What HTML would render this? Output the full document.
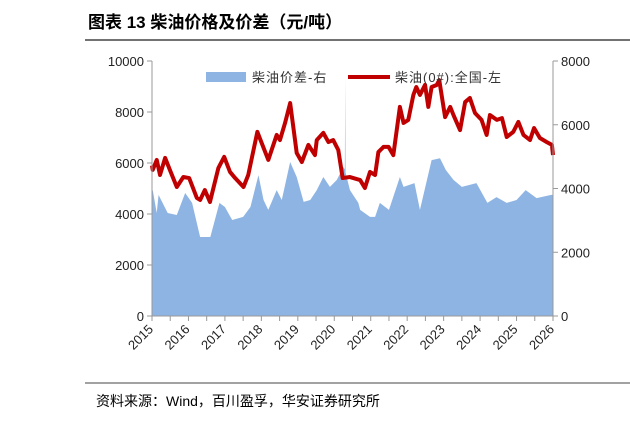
<!DOCTYPE html>
<html><head><meta charset="utf-8">
<style>
body{margin:0;width:630px;height:423px;background:#fff;overflow:hidden;font-family:"Liberation Sans","Noto Sans CJK SC",sans-serif;}
svg{display:block}
</style></head>
<body>
<svg width="630" height="423">
<text x="88" y="28" font-size="17" font-weight="bold" fill="#000">图表 13 柴油价格及价差（元/吨）</text>
<line x1="85" y1="40" x2="630" y2="40" stroke="#444" stroke-width="1.5"/>
<g id="plot"></g>
<g id="axes"></g>
<g>
<rect x="206" y="72" width="40" height="10" fill="#8eb4e3"/>
<text x="252" y="82" font-size="13" fill="#333" letter-spacing="1">柴油价差-右</text>
<line x1="348" y1="77" x2="390" y2="77" stroke="#c00000" stroke-width="4"/>
<text x="395" y="82" font-size="13" fill="#333" letter-spacing="1">柴油(0#):全国-左</text>
</g>
<line x1="85" y1="383" x2="630" y2="383" stroke="#444" stroke-width="1"/>
<text x="96" y="406" font-size="14" fill="#000">资料来源：Wind，百川盈孚，华安证券研究所</text>
</svg>
<script>
const years=[2015,2016,2017,2018,2019,2020,2021,2022,2023,2024,2025,2026];
const leftTicks=[0,2000,4000,6000,8000,10000];
const rightTicks=[0,2000,4000,6000,8000];
const spreadT=[2015,2015.02,2015.13,2015.18,2015.43,2015.68,2015.91,2016.1,2016.32,2016.5,2016.6,2016.85,2017,2017.2,2017.5,2017.7,2017.92,2018.06,2018.19,2018.42,2018.56,2018.79,2018.97,2019.16,2019.34,2019.52,2019.7,2019.88,2020.07,2020.25,2020.29,2020.3,2020.31,2020.43,2020.66,2020.71,2020.98,2021.12,2021.25,2021.5,2021.8,2021.9,2022.2,2022.35,2022.67,2022.9,2023.06,2023.27,2023.5,2023.9,2024.2,2024.45,2024.73,2025,2025.25,2025.55,2025.95,2026];
const spreadV=[3900,3950,3230,3800,3230,3170,3860,3550,2480,2480,2480,3550,3420,3010,3110,3420,4420,3640,3330,3950,3640,4830,4360,3580,3640,3950,4360,4050,4270,4670,4600,7470,4500,3950,3550,3330,3110,3110,3550,3330,4360,4050,4170,3330,4890,4950,4580,4270,4050,4170,3550,3730,3550,3640,3950,3700,3800,3800];
const priceT=[2015,2015.02,2015.13,2015.22,2015.36,2015.49,2015.68,2015.86,2016.02,2016.23,2016.32,2016.45,2016.59,2016.82,2016.98,2017.14,2017.28,2017.51,2017.64,2017.89,2018.19,2018.42,2018.51,2018.65,2018.79,2018.97,2019.11,2019.29,2019.47,2019.52,2019.7,2019.84,2019.97,2020.11,2020.23,2020.43,2020.71,2020.84,2020.98,2021.12,2021.21,2021.35,2021.49,2021.62,2021.8,2021.9,2022.03,2022.17,2022.25,2022.35,2022.49,2022.58,2022.67,2022.81,2022.88,2023.04,2023.18,2023.27,2023.45,2023.59,2023.72,2023.86,2024.04,2024.18,2024.27,2024.46,2024.6,2024.73,2024.91,2025.05,2025.19,2025.37,2025.48,2025.64,2025.83,2025.97,2026];
const priceV=[5900,5730,6120,5530,6200,5730,5060,5450,5410,4630,4550,4940,4470,5800,6240,5650,5410,5060,5530,7220,6120,7100,6900,7570,8350,6390,6040,6710,6310,6900,7180,6820,6900,6510,5410,5450,5330,5020,5650,5530,6430,6630,6630,6310,8200,7570,7690,8670,8980,8670,9060,8200,8980,9060,9250,7800,8200,7880,7290,8390,8550,7960,7690,7100,7880,7690,7760,7020,7220,7610,7100,6900,7370,6980,6820,6710,6310];
const X0=152,X1=553,Y0=316,Y1=61,NS="http://www.w3.org/2000/svg";
const xs=t=>X0+(t-2015)/11*(X1-X0);
const yl=v=>Y0-v/10000*(Y0-Y1);
const yr=v=>Y0-v/8000*(Y0-Y1);
function mk(tag,attrs,parent){const e=document.createElementNS(NS,tag);for(const k in attrs)e.setAttribute(k,attrs[k]);parent.appendChild(e);return e;}
const plot=document.getElementById('plot'),axes=document.getElementById('axes');
let d=`M${xs(spreadT[0])},${Y0}`;
spreadT.forEach((t,i)=>{d+=` L${xs(t)},${yr(spreadV[i])}`;});
d+=` L${xs(spreadT[spreadT.length-1])},${Y0} Z`;
const area=mk('path',{d:d,fill:'#8eb4e3'},plot);


const pts=priceT.map((t,i)=>`${xs(t)},${yl(priceV[i])}`).join(' ');
const line=mk('polyline',{points:pts,fill:'none',stroke:'#c00000','stroke-width':4,'stroke-linejoin':'round'},plot);


mk('line',{x1:X0,y1:Y1,x2:X0,y2:Y0,stroke:'#999'},axes);
mk('line',{x1:X1,y1:Y1,x2:X1,y2:Y0,stroke:'#999'},axes);
mk('line',{x1:X0,y1:Y0,x2:X1,y2:Y0,stroke:'#999'},axes);
leftTicks.forEach(v=>{const y=yl(v);mk('line',{x1:X0-5,y1:y,x2:X0,y2:y,stroke:'#999'},axes);
const tx=mk('text',{x:X0-8,y:y+5,'font-size':13,'text-anchor':'end',fill:'#222'},axes);tx.textContent=v;

});
rightTicks.forEach(v=>{const y=yr(v);mk('line',{x1:X1,y1:y,x2:X1+5,y2:y,stroke:'#999'},axes);
const tx=mk('text',{x:X1+8,y:y+5,'font-size':13,fill:'#222'},axes);tx.textContent=v;

});
for(let t=2015;t<=2026;t+=0.5){const x=xs(t);mk('line',{x1:x,y1:Y0,x2:x,y2:Y0+5,stroke:'#999'},axes);}
years.forEach(yv=>{const x=xs(yv);const tx=mk('text',{x:x+2,y:Y0+14,'font-size':13,'text-anchor':'end',fill:'#222',transform:`rotate(-45 ${x+2} ${Y0+14})`},axes);tx.textContent=yv;

});
</script>
</body></html>
